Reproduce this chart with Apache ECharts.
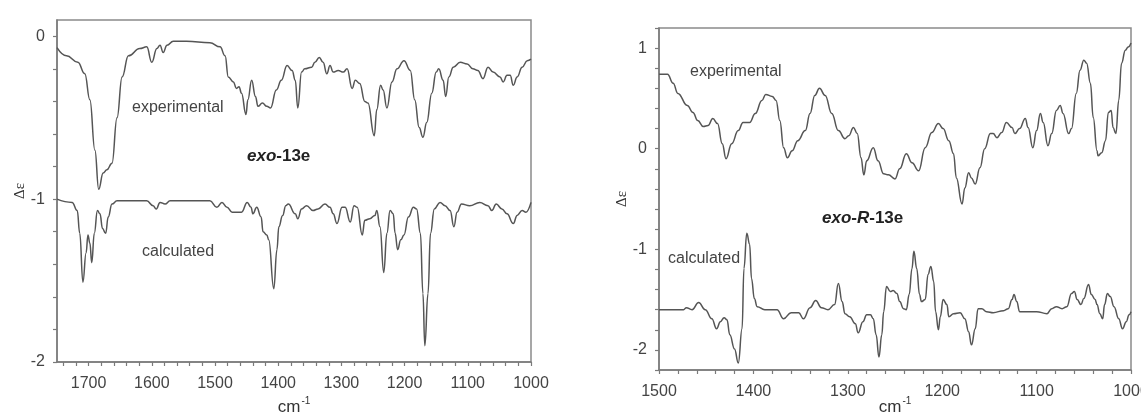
<!DOCTYPE html>
<html>
<head>
<meta charset="utf-8">
<script src="https://cdn.jsdelivr.net/npm/echarts@6/dist/echarts.min.js"></script>
<style>html,body{margin:0;padding:0;background:#fff;}#c{width:1141px;height:416px;}</style>
</head>
<body>
<div id="c"></div>
<script>
// ---- data (wavenumber cm-1, Δε) ----
const leftExperimental = [[1750,-0.07],[1735,-0.12],[1717,-0.16],[1706,-0.23],[1698,-0.39],[1690,-0.70],[1684,-0.94],[1677,-0.84],[1671,-0.82],[1663,-0.78],[1655,-0.50],[1647,-0.25],[1637,-0.12],[1619,-0.075],[1608,-0.065],[1600,-0.16],[1592,-0.075],[1587,-0.055],[1582,-0.10],[1576,-0.055],[1566,-0.03],[1545,-0.03],[1508,-0.04],[1492,-0.065],[1484,-0.12],[1479,-0.25],[1471,-0.28],[1466,-0.32],[1462,-0.31],[1458,-0.35],[1451,-0.48],[1448,-0.39],[1442,-0.27],[1436,-0.37],[1432,-0.43],[1425,-0.41],[1418,-0.43],[1412,-0.44],[1403,-0.33],[1395,-0.27],[1386,-0.18],[1378,-0.21],[1373,-0.27],[1369,-0.44],[1363,-0.22],[1358,-0.20],[1347,-0.19],[1342,-0.16],[1335,-0.13],[1329,-0.16],[1323,-0.23],[1318,-0.18],[1313,-0.22],[1305,-0.21],[1297,-0.22],[1291,-0.20],[1283,-0.32],[1278,-0.27],[1271,-0.29],[1263,-0.40],[1258,-0.41],[1248,-0.61],[1244,-0.45],[1238,-0.30],[1234,-0.33],[1228,-0.44],[1220,-0.28],[1212,-0.20],[1201,-0.15],[1191,-0.21],[1184,-0.39],[1177,-0.56],[1171,-0.62],[1165,-0.53],[1157,-0.35],[1150,-0.22],[1146,-0.20],[1139,-0.27],[1135,-0.37],[1130,-0.25],[1123,-0.19],[1112,-0.16],[1101,-0.17],[1092,-0.20],[1084,-0.21],[1076,-0.26],[1068,-0.19],[1060,-0.22],[1049,-0.25],[1044,-0.28],[1038,-0.24],[1033,-0.24],[1028,-0.30],[1022,-0.25],[1014,-0.19],[1006,-0.15],[1000,-0.14]];

const leftCalculated = [[1750,-1.0],[1726,-1.02],[1718,-1.07],[1714,-1.21],[1709,-1.51],[1704,-1.33],[1701,-1.22],[1698,-1.27],[1695,-1.39],[1691,-1.21],[1686,-1.07],[1682,-1.09],[1678,-1.18],[1673,-1.21],[1669,-1.11],[1663,-1.03],[1655,-1.01],[1608,-1.01],[1598,-1.04],[1593,-1.06],[1587,-1.02],[1579,-1.03],[1571,-1.01],[1508,-1.01],[1497,-1.05],[1489,-1.02],[1481,-1.05],[1473,-1.08],[1458,-1.08],[1449,-1.02],[1443,-1.05],[1440,-1.09],[1434,-1.05],[1427,-1.11],[1424,-1.20],[1418,-1.22],[1415,-1.25],[1407,-1.55],[1402,-1.31],[1399,-1.17],[1393,-1.10],[1388,-1.04],[1384,-1.03],[1373,-1.09],[1369,-1.12],[1363,-1.06],[1355,-1.04],[1345,-1.07],[1337,-1.06],[1326,-1.03],[1318,-1.05],[1313,-1.09],[1307,-1.15],[1299,-1.05],[1294,-1.05],[1286,-1.14],[1280,-1.04],[1275,-1.05],[1267,-1.22],[1263,-1.13],[1255,-1.12],[1247,-1.10],[1244,-1.07],[1239,-1.17],[1233,-1.45],[1228,-1.21],[1223,-1.07],[1218,-1.09],[1215,-1.21],[1211,-1.31],[1206,-1.25],[1201,-1.22],[1194,-1.11],[1186,-1.05],[1181,-1.06],[1175,-1.21],[1171,-1.58],[1168,-1.90],[1163,-1.58],[1159,-1.21],[1153,-1.06],[1144,-1.02],[1136,-1.04],[1128,-1.07],[1122,-1.17],[1117,-1.08],[1110,-1.03],[1097,-1.04],[1081,-1.02],[1068,-1.04],[1062,-1.07],[1055,-1.03],[1046,-1.06],[1038,-1.09],[1028,-1.15],[1022,-1.10],[1014,-1.07],[1008,-1.08],[1000,-1.02]];

const rightExperimental = [[1500,0.74],[1491,0.74],[1485,0.65],[1480,0.55],[1470,0.43],[1464,0.36],[1459,0.28],[1453,0.22],[1448,0.23],[1443,0.30],[1438,0.25],[1433,0.05],[1429,-0.10],[1423,0.05],[1416,0.18],[1411,0.26],[1404,0.26],[1398,0.35],[1391,0.48],[1387,0.54],[1380,0.52],[1376,0.48],[1372,0.28],[1368,0.01],[1364,-0.09],[1359,-0.02],[1353,0.08],[1345,0.18],[1340,0.35],[1335,0.53],[1330,0.60],[1324,0.53],[1317,0.35],[1310,0.18],[1303,0.10],[1299,0.13],[1294,0.21],[1290,0.15],[1286,-0.09],[1283,-0.26],[1280,-0.12],[1273,0.01],[1268,-0.12],[1262,-0.25],[1257,-0.26],[1250,-0.30],[1245,-0.20],[1238,-0.05],[1232,-0.14],[1225,-0.22],[1218,0.01],[1211,0.16],[1204,0.25],[1199,0.20],[1193,0.08],[1188,-0.05],[1185,-0.29],[1179,-0.55],[1176,-0.39],[1172,-0.24],[1169,-0.29],[1165,-0.35],[1160,-0.19],[1155,0.00],[1149,0.15],[1146,0.15],[1142,0.11],[1137,0.16],[1132,0.26],[1126,0.21],[1123,0.15],[1118,0.20],[1112,0.30],[1109,0.21],[1104,0.01],[1100,0.18],[1096,0.35],[1093,0.26],[1088,0.03],[1084,0.15],[1079,0.38],[1075,0.43],[1072,0.35],[1066,0.15],[1063,0.20],[1058,0.55],[1054,0.78],[1050,0.88],[1047,0.85],[1043,0.65],[1040,0.31],[1036,-0.02],[1035,-0.07],[1031,-0.04],[1027,0.08],[1024,0.36],[1021,0.38],[1019,0.21],[1016,0.15],[1013,0.48],[1010,0.85],[1006,0.98],[1003,1.01],[1000,1.05]];

const rightCalculated = [[1500,-1.60],[1481,-1.60],[1474,-1.60],[1471,-1.58],[1465,-1.60],[1458,-1.53],[1451,-1.60],[1444,-1.69],[1439,-1.79],[1435,-1.72],[1431,-1.68],[1428,-1.70],[1425,-1.85],[1420,-1.99],[1416,-2.13],[1412,-1.79],[1410,-1.19],[1407,-0.84],[1404,-0.95],[1402,-1.29],[1399,-1.49],[1396,-1.57],[1388,-1.60],[1375,-1.60],[1368,-1.69],[1360,-1.63],[1352,-1.63],[1347,-1.69],[1340,-1.58],[1334,-1.51],[1328,-1.58],[1321,-1.60],[1314,-1.55],[1310,-1.34],[1306,-1.52],[1303,-1.64],[1298,-1.67],[1292,-1.74],[1289,-1.83],[1284,-1.72],[1280,-1.65],[1276,-1.65],[1273,-1.69],[1270,-1.85],[1267,-2.07],[1264,-1.85],[1262,-1.62],[1259,-1.37],[1255,-1.42],[1252,-1.41],[1248,-1.44],[1245,-1.52],[1241,-1.59],[1238,-1.60],[1235,-1.45],[1232,-1.19],[1230,-1.02],[1227,-1.19],[1224,-1.45],[1222,-1.52],[1218,-1.50],[1215,-1.25],[1212,-1.17],[1209,-1.32],[1207,-1.62],[1204,-1.80],[1202,-1.67],[1199,-1.50],[1195,-1.55],[1193,-1.67],[1188,-1.64],[1181,-1.63],[1176,-1.69],[1172,-1.82],[1169,-1.95],[1165,-1.79],[1162,-1.59],[1158,-1.59],[1153,-1.62],[1146,-1.63],[1135,-1.61],[1130,-1.59],[1126,-1.50],[1124,-1.45],[1121,-1.52],[1118,-1.62],[1100,-1.62],[1089,-1.64],[1084,-1.59],[1079,-1.57],[1073,-1.59],[1068,-1.57],[1063,-1.44],[1060,-1.42],[1057,-1.50],[1053,-1.55],[1050,-1.49],[1045,-1.35],[1042,-1.45],[1038,-1.50],[1036,-1.55],[1033,-1.64],[1030,-1.69],[1028,-1.55],[1025,-1.44],[1022,-1.47],[1018,-1.57],[1013,-1.69],[1009,-1.79],[1005,-1.72],[1002,-1.65],[1000,-1.62]];

// tick labels
const leftXLabels = [1700,1600,1500,1400,1300,1200,1100,1000];
const rightXLabels = [1500,1400,1300,1200,1100,1000];
const leftYLabels = [-2,-1,0];
const rightYLabels = [-2,-1,0,1];
// minor tick positions
const leftXTicks = [];  for (let v = 1740; v >= 1000; v -= 20) leftXTicks.push(v);
const rightXTicks = []; for (let v = 1500; v >= 1000; v -= 20) rightXTicks.push(v);
const leftYTicks = [];  for (let i = -10; i <= 0; i++) leftYTicks.push(+(i*0.2).toFixed(1));
const rightYTicks = []; for (let i = -11; i <= 6; i++) rightYTicks.push(+(i*0.2).toFixed(1));

const axisColor = '#7a7a7a';
const textColor = '#444';
const lineColor = '#555';
const fontFam = '"Liberation Sans", Arial, sans-serif';

function xAxisCfg(grid, min, max, ticks, labels, gap) {
  return {
    gridIndex: grid, type: 'value', min: min, max: max, inverse: true,
    axisLine: { show: true, onZero: false, lineStyle: { color: axisColor, width: 1.5 } },
    axisTick: { show: true, customValues: ticks, length: 4, inside: false, lineStyle: { color: axisColor, width: 1.2 } },
    axisLabel: { customValues: labels, formatter: function (v) { return String(v); }, margin: 14, fontSize: 16, color: textColor, fontFamily: fontFam },
    splitLine: { show: false },
    name: '{a|cm}{b|-1}', nameLocation: 'middle', nameGap: gap, nameMoveOverlap: false,
    nameTextStyle: { rich: { a: { fontSize: 17, color: '#333', fontFamily: fontFam }, b: { fontSize: 10, color: '#333', fontFamily: fontFam, padding: [0, 0, 12, 1] } } }
  };
}
function yAxisCfg(grid, min, max, ticks, labels, gap) {
  return {
    gridIndex: grid, type: 'value', min: min, max: max,
    axisLine: { show: true, onZero: false, lineStyle: { color: axisColor, width: 1.5 } },
    axisTick: { show: true, customValues: ticks, length: 4, inside: false, lineStyle: { color: axisColor, width: 1.2 } },
    axisLabel: { customValues: labels, formatter: function (v) { return String(v); }, margin: 12, fontSize: 16, color: textColor, fontFamily: fontFam },
    splitLine: { show: false },
    name: 'Δε', nameLocation: 'middle', nameGap: gap, nameRotate: 90, nameMoveOverlap: false,
    nameTextStyle: { fontSize: 15, color: '#333', fontFamily: '"Liberation Serif", "DejaVu Serif", serif' }
  };
}
function lineSeries(x, y, data) {
  return { type: 'line', xAxisIndex: x, yAxisIndex: y, data: data, showSymbol: false, symbol: 'none',
    smooth: 0.45, smoothMonotone: 'x', lineStyle: { color: lineColor, width: 1.5 }, animation: false };
}

const chart = echarts.init(document.getElementById('c'), null, { renderer: 'canvas' });
chart.setOption({
  animation: false,
  backgroundColor: '#fff',
  grid: [
    { left: 57, top: 20, width: 474, height: 342, show: true, borderColor: '#8a8a8a', borderWidth: 1.5, containLabel: false, outerBoundsMode: 'none' },
    { left: 659, top: 28, width: 472, height: 342, show: true, borderColor: '#8a8a8a', borderWidth: 1.5, containLabel: false, outerBoundsMode: 'none' }
  ],
  xAxis: [
    xAxisCfg(0, 1000, 1750, leftXTicks, leftXLabels, 34),
    xAxisCfg(1, 1000, 1500, rightXTicks, rightXLabels, 26)
  ],
  yAxis: [
    yAxisCfg(0, -2, 0.1, leftYTicks, leftYLabels, 29),
    yAxisCfg(1, -2.2, 1.2, rightYTicks, rightYLabels, 29)
  ],
  series: [
    lineSeries(0, 0, leftExperimental),
    lineSeries(0, 0, leftCalculated),
    lineSeries(1, 1, rightExperimental),
    lineSeries(1, 1, rightCalculated)
  ],
  graphic: [
    { type: 'text', x: 132, y: 108, style: { text: 'experimental', font: '16px ' + fontFam, fill: textColor, verticalAlign: 'middle' } },
    { type: 'text', x: 142, y: 252, style: { text: 'calculated', font: '16px ' + fontFam, fill: textColor, verticalAlign: 'middle' } },
    { type: 'text', x: 247, y: 156, style: { text: '{i|exo}{n|-13e}', verticalAlign: 'middle',
        rich: { i: { font: 'italic bold 17px ' + fontFam, fill: '#222' }, n: { font: 'bold 17px ' + fontFam, fill: '#222' } } } },
    { type: 'text', x: 690, y: 72, style: { text: 'experimental', font: '16px ' + fontFam, fill: textColor, verticalAlign: 'middle' } },
    { type: 'text', x: 668, y: 259, style: { text: 'calculated', font: '16px ' + fontFam, fill: textColor, verticalAlign: 'middle' } },
    { type: 'text', x: 822, y: 218, style: { text: '{i|exo}{n|-}{i|R}{n|-13e}', verticalAlign: 'middle',
        rich: { i: { font: 'italic bold 17px ' + fontFam, fill: '#222' }, n: { font: 'bold 17px ' + fontFam, fill: '#222' } } } }
  ]
});
</script>
</body>
</html>
